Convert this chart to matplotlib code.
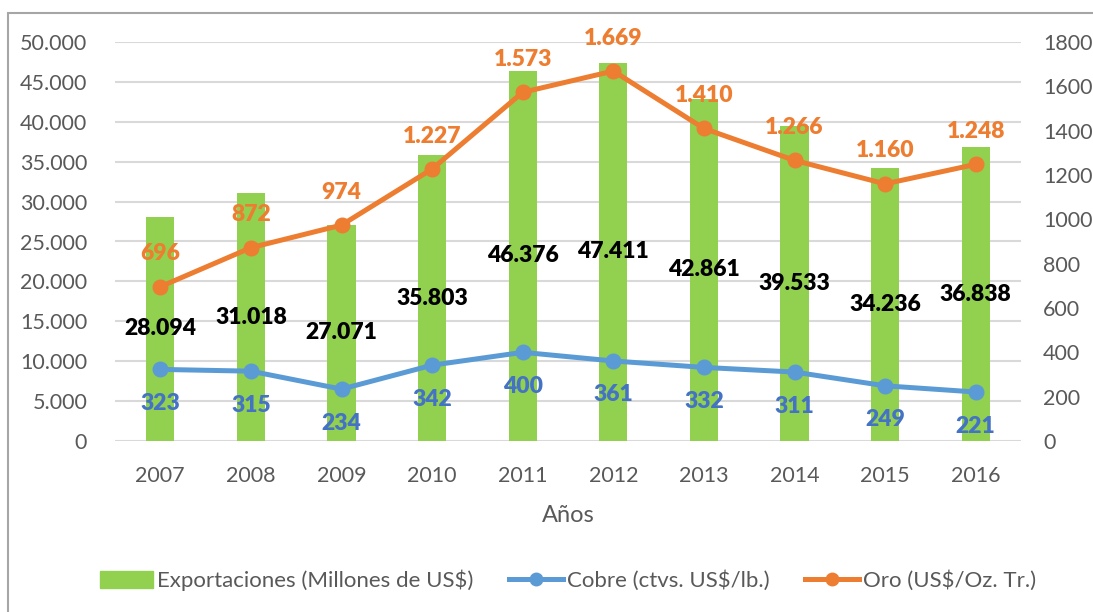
import matplotlib
matplotlib.use("Agg")
import matplotlib.pyplot as plt
from matplotlib.patches import Rectangle
from matplotlib.lines import Line2D
from matplotlib.patches import Patch

plt.rcParams['font.family'] = ['Lato', 'DejaVu Sans']

years = ['2007', '2008', '2009', '2010', '2011', '2012', '2013', '2014', '2015', '2016']
exportaciones = [28094, 31018, 27071, 35803, 46376, 47411, 42861, 39533, 34236, 36838]
cobre = [323, 315, 234, 342, 400, 361, 332, 311, 249, 221]
oro = [696, 872, 974, 1227, 1573, 1669, 1410, 1266, 1160, 1248]

GREEN = '#92D050'
BLUE = '#5B9BD5'
ORANGE = '#ED7D31'
BLUE_TXT = '#4472C4'
GRAY_TXT = '#595959'
GRID = '#D9D9D9'

def fmt(v):
    return f"{v:,}".replace(',', '.')

fig = plt.figure(figsize=(10.93, 6.12), dpi=100)
ax = fig.add_axes([115/1093, 1-441/612, (1021-115)/1093, (441-42)/612])
ax2 = ax.twinx()

x = list(range(len(years)))
ax.bar(x, exportaciones, width=0.31, color=GREEN, zorder=2)
ax.set_ylim(0, 50000)
ax.set_xlim(-0.5, len(years) - 0.5)
ax.set_yticks(range(0, 50001, 5000))
ax.set_yticklabels([fmt(v) for v in range(0, 50001, 5000)])
ax.yaxis.grid(True, color=GRID, linewidth=1.5, zorder=0)
ax.set_axisbelow(True)
ax.set_xticks(x)
ax.set_xticklabels(years)
for s in ax.spines.values():
    s.set_visible(False)
for s in ax2.spines.values():
    s.set_visible(False)
ax.tick_params(axis='both', length=0, labelsize=15.5, colors=GRAY_TXT)
ax.tick_params(axis='x', pad=18)
ax.tick_params(axis='y', pad=20)
ax.set_xlabel('Años', fontsize=17, color=GRAY_TXT, labelpad=14)

for xi, v in zip(x, exportaciones):
    ax.text(xi, v / 2, fmt(v), ha='center', va='center', fontsize=16.5,
            fontweight='heavy', color='black', zorder=5)

ax2.set_ylim(0, 1800)
ax2.set_yticks(range(0, 1801, 200))
ax2.tick_params(axis='y', length=0, labelsize=15.5, colors=GRAY_TXT, pad=16)
ax2.plot(x, cobre, color=BLUE, linewidth=3.6, marker='o', markersize=10.5, zorder=3)
ax2.plot(x, oro, color=ORANGE, linewidth=3.6, marker='o', markersize=10.5, zorder=3)

for xi, v in zip(x, cobre):
    ax2.annotate(str(v), (xi, v), xytext=(0, -34), textcoords='offset pixels',
                 ha='center', va='center', fontsize=16.5, fontweight='heavy', color=BLUE_TXT)
for xi, v in zip(x, oro):
    ax2.annotate(fmt(v), (xi, v), xytext=(0, 33), textcoords='offset pixels',
                 ha='center', va='center', fontsize=16.5, fontweight='heavy', color=ORANGE)

fig.patches.append(Rectangle((8/1093, -0.1), 1.2, 1 - 13/612 + 0.1,
                             transform=fig.transFigure, fill=False,
                             edgecolor='#A6A6A6', linewidth=1.5))

handles = [Patch(color=GREEN),
           Line2D([0], [0], color=BLUE, linewidth=3.6, marker='o', markersize=9),
           Line2D([0], [0], color=ORANGE, linewidth=3.6, marker='o', markersize=9)]
labels = ['Exportaciones (Millones de US$)', 'Cobre (ctvs. US$/lb.)', 'Oro (US$/Oz. Tr.)']
leg = fig.legend(handles, labels, loc='center', bbox_to_anchor=(568/1093, 1 - 580/612),
                 ncol=3, frameon=False, fontsize=16, handlelength=2.4, handleheight=0.8,
                 handletextpad=0.2, columnspacing=1.6)
for t in leg.get_texts():
    t.set_color(GRAY_TXT)

fig.savefig('out.png', dpi=100)
